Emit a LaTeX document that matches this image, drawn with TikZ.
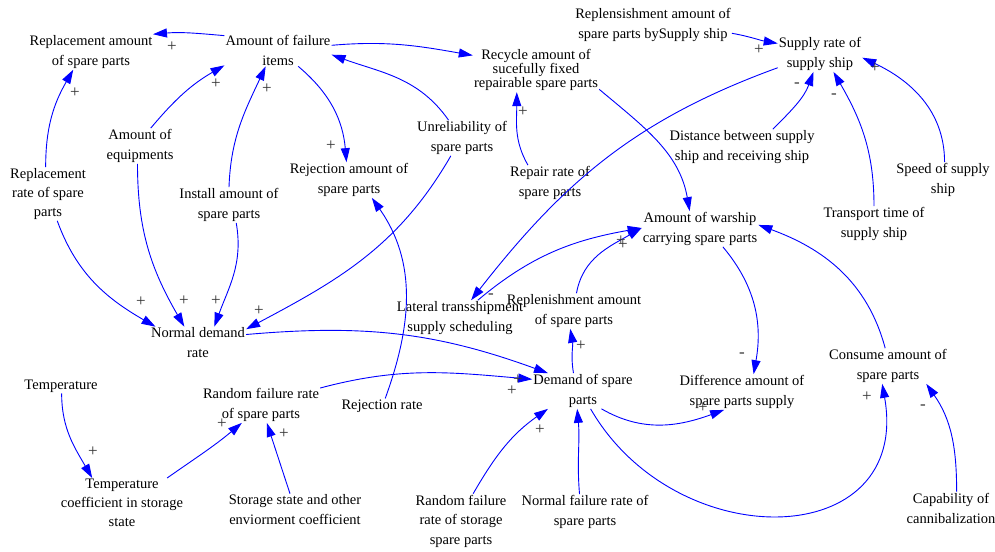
\documentclass[tikz,border=0pt]{standalone}
\usepackage{fontspec}
\setmainfont{Liberation Serif}
\usetikzlibrary{arrows.meta}
\begin{document}
\begin{tikzpicture}[x=1pt,y=1pt,
  v/.style={align=center, inner sep=1pt, font=\fontsize{14.5}{20}\selectfont},
  lnk/.style={draw=blue, line width=0.9pt, -{Triangle[length=14pt,width=9pt]}},
  pol/.style={font=\fontsize{17}{17}\selectfont, text=black!80, inner sep=0pt}]
\useasboundingbox (0,0) rectangle (995,-551);
% variables
\node[v] (repamt) at (91,-52) {Replacement amount\\of spare parts};
\node[v] (fail) at (278,-50) {Amount of failure\\items};
\node[v, font=\fontsize{14.5}{13}\selectfont] (recyc) at (536,-70) {Recycle amount of\\sucefully fixed\\repairable spare parts};
\node[v] (replss) at (653,-25) {Replensishment amount of\\spare parts bySupply ship};
\node[v] (srate) at (820,-54) {Supply rate of\\supply ship};
\node[v] (equip) at (140,-146) {Amount of\\equipments};
\node[v] (unrel) at (462,-138) {Unreliability of\\spare parts};
\node[v] (rejamt) at (349,-180) {Rejection amount of\\spare parts};
\node[v] (repair) at (550,-183) {Repair rate of\\spare parts};
\node[v] (dist) at (742,-147) {Distance between supply\\ship and receiving ship};
\node[v, font=\fontsize{14.5}{19}\selectfont] (reprate) at (48,-194) {Replacement\\rate of spare\\parts};
\node[v] (install) at (229,-205) {Install amount of\\spare parts};
\node[v] (speed) at (943,-180) {Speed of supply\\ship};
\node[v] (warship) at (700,-229) {Amount of warship\\carrying spare parts};
\node[v] (transp) at (874,-224) {Transport time of\\supply ship};
\node[v] (normal) at (198,-343) {Normal demand\\rate};
\node[v] (lateral) at (460,-318) {Lateral transshipment\\supply scheduling};
\node[v] (replen) at (574,-311) {Replenishment amount\\of spare parts};
\node[v] (temp) at (61,-386) {Temperature};
\node[v] (rfr) at (261,-405) {Random failure rate\\of spare parts};
\node[v] (rejrate) at (382,-406) {Rejection rate};
\node[v] (demand) at (583,-391) {Demand of spare\\parts};
\node[v] (diff) at (742,-392) {Difference amount of\\spare parts supply};
\node[v] (consume) at (888,-366) {Consume amount of\\spare parts};
\node[v, font=\fontsize{14.5}{19}\selectfont] (tcoef) at (122,-503) {Temperature\\coefficient in storage\\state};
\node[v] (storage) at (295,-510) {Storage state and other\\enviorment coefficient};
\node[v, font=\fontsize{14.5}{19.5}\selectfont] (rfrs) at (461,-521) {Random failure\\rate of storage\\spare parts};
\node[v] (nfr) at (585,-512) {Normal failure rate of\\spare parts};
\node[v] (cannib) at (951,-508) {Capability of\\cannibalization};
% links
\draw[lnk] (fail.165) to[out=175,in=5] (repamt.16);
\draw[lnk] (reprate.95) to[out=90,in=240] (repamt.225);
\draw[lnk] (equip.59) to[out=50,in=210] (fail.196);
\draw[lnk] (install.90) to[out=88,in=245] (fail.233);
\draw[lnk] (unrel.127) to[out=125,in=-20] (fail.-5);
\draw[lnk] (fail.5) to[out=5,in=170] (recyc.167);
\draw[lnk] (fail.-39) to[out=-40,in=95] (rejamt.98);
\draw[lnk] (reprate.-71) to[out=-70,in=150] (normal.159);
\draw[lnk] (equip.262) to[out=-90,in=120] (normal.130);
\draw[lnk] (install.-68) to[out=-80,in=70] (normal.45);
\draw[lnk] (unrel.238) to[out=240,in=28] (normal.16);
\draw[lnk] (normal.10) to[out=5,in=160] (demand.153);
\draw[lnk] (rfr.16) to[out=15,in=175] (demand.167);
\draw[lnk] (rejrate.67) to[out=70,in=-55] (rejamt.-38);
\draw[lnk] (repair.141) to[out=120,in=-90] (recyc.229);
\draw[lnk] (recyc.-17) to[out=-40,in=100] (warship.120);
\draw[lnk] (srate.198) to[out=200,in=52] (lateral.58);
\draw[lnk] (lateral.45) to[out=40,in=190] (warship.179);
\draw[lnk] (replen.82) to[out=80,in=210] (warship.179);
\draw[lnk] (replss.-6) to[out=-10,in=170] (srate.166);
\draw[lnk] (dist.30) to[out=45,in=-110] (srate.-110);
\draw[lnk] (transp.90) to[out=90,in=-60] (srate.-53);
\draw[lnk] (speed.85) to[out=90,in=-25] (srate.-5);
\draw[lnk] (warship.-38) to[out=-50,in=80] (diff.57);
\draw[lnk] (consume.99) to[out=105,in=-20] (warship.4);
\draw[lnk] (demand.118) to[out=100,in=-80] (replen.-102);
\draw[lnk] (rfrs.66) to[out=60,in=215] (demand.207);
\draw[lnk] (nfr.107) to[out=95,in=-85] (demand.-108);
\draw[lnk] (demand.-44) to[out=-30,in=200] (diff.225);
\draw[lnk] (demand.-67) to[out=-60,in=-80,looseness=1.5] (consume.-108);
\draw[lnk] (cannib.71) to[out=90,in=-55] (consume.-25);
\draw[lnk] (temp.-85) to[out=-90,in=120] (tcoef.140);
\draw[lnk] (tcoef.29) to[out=35,in=220] (rfr.223);
\draw[lnk] (storage.107) to (rfr.-72);
% polarities
\node[pol] (p1) at (172,-47) {+};
\node[pol] (p2) at (75,-93) {+};
\node[pol] (p3) at (216,-84) {+};
\node[pol] (p4) at (267,-89) {+};
\node[pol] (p5) at (331,-146) {+};
\node[pol] (p6) at (141,-302) {+};
\node[pol] (p7) at (184,-301) {+};
\node[pol] (p8) at (216,-301) {+};
\node[pol] (p9) at (259,-311) {+};
\node[pol] (p10) at (523,-112) {+};
\node[pol] (p11) at (759,-50) {+};
\node[pol] (p12) at (875,-68) {+};
\node[pol] (p13) at (797,-85) {-};
\node[pol] (p14) at (834,-96) {-};
\node[pol] (p15) at (621,-241) {+};
\node[pol] (p16) at (623,-245) {+};
\node[pol] (p17) at (491,-296) {-};
\node[pol] (p18) at (581,-346) {+};
\node[pol] (p19) at (512,-391) {+};
\node[pol] (p20) at (518,-380) {+};
\node[pol] (p21) at (540,-430) {+};
\node[pol] (p22) at (742,-355) {-};
\node[pol] (p23) at (867,-397) {+};
\node[pol] (p24) at (923,-407) {-};
\node[pol] (p25) at (703,-408) {+};
\node[pol] (p26) at (93,-452) {+};
\node[pol] (p27) at (222,-424) {+};
\node[pol] (p28) at (284,-434) {+};
\end{tikzpicture}
\end{document}
